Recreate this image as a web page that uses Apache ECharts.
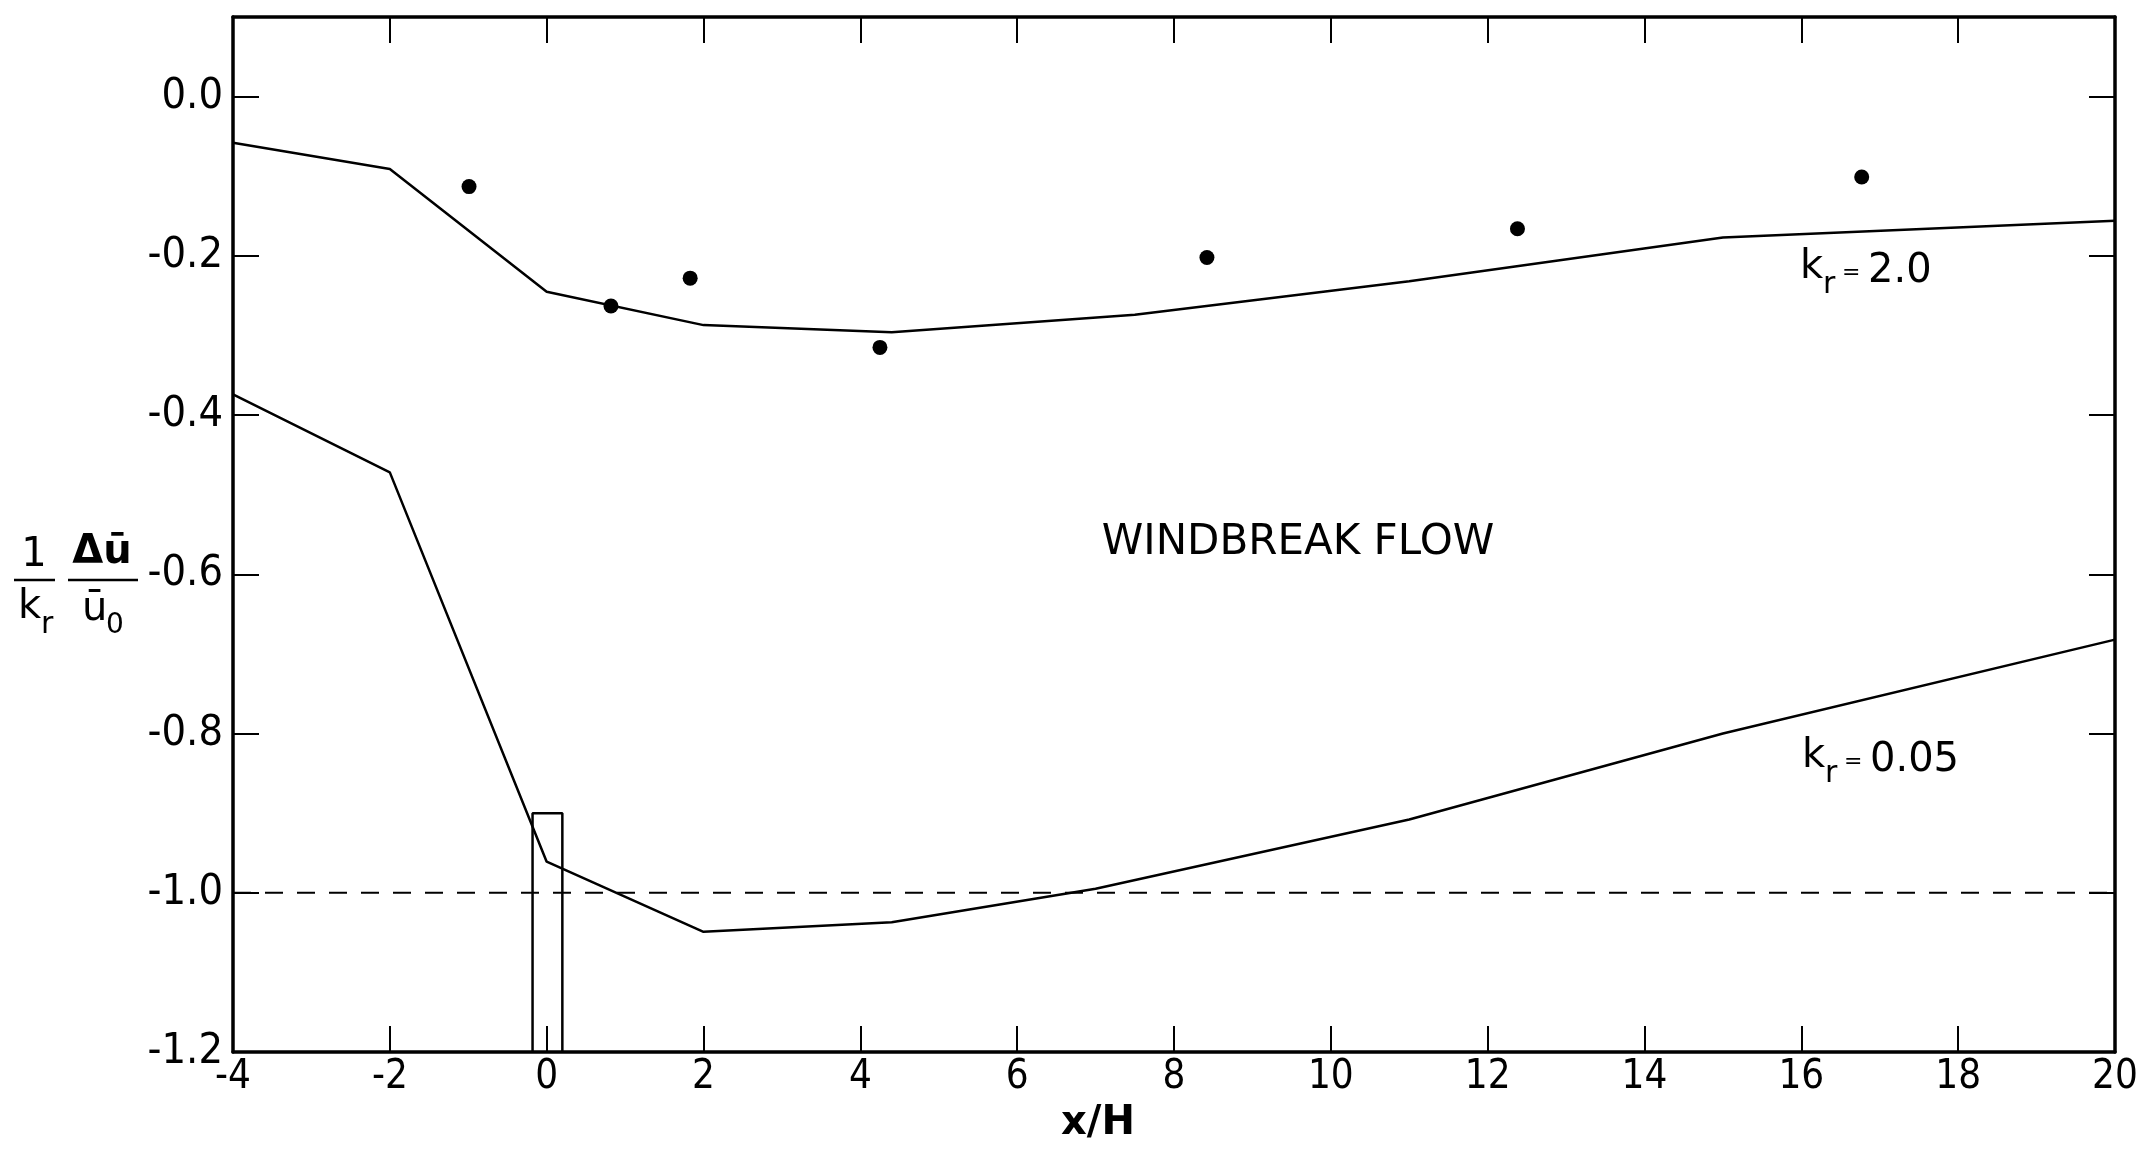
<!DOCTYPE html>
<html>
<head>
<meta charset="utf-8">
<script src="https://cdn.jsdelivr.net/npm/echarts@6/dist/echarts.min.js"></script>
<style>
  html, body { margin: 0; padding: 0; background: #fff; }
  #chart { width: 2146px; height: 1151px; }
</style>
</head>
<body>
<div id="chart"></div>
<script>
// curve k_r = 2.0
const xKr2 = [-4, -2, 0, 2, 4.4, 7.5, 11, 15, 20];
const yKr2 = [-0.058, -0.091, -0.245, -0.287, -0.296, -0.274, -0.232, -0.177, -0.156];

// curve k_r = 0.05
const xKr005 = [-4, -2, 0, 2, 4.4, 7, 11, 15, 20];
const yKr005 = [-0.374, -0.472, -0.961, -1.049, -1.037, -0.995, -0.908, -0.800, -0.682];

// measured points
const xDots = [-0.99, 0.82, 1.83, 4.25, 8.42, 12.38, 16.77];
const yDots = [-0.113, -0.263, -0.228, -0.315, -0.202, -0.166, -0.101];

// reference level and windbreak outline
const refLevel = -1.0;
const fenceX = [-0.18, -0.18, 0.2, 0.2];
const fenceY = [-1.2, -0.9, -0.9, -1.2];

const numFont = "'DejaVu Sans Condensed', 'Liberation Sans Narrow', 'DejaVu Sans', sans-serif";
const txtFont = "'DejaVu Sans', sans-serif";

const zip = (xs, ys) => xs.map((x, i) => [x, ys[i]]);

const chart = echarts.init(document.getElementById('chart'));

const axisLine = { show: true, onZero: false, lineStyle: { color: '#000', width: 3.5 } };
const tick = { show: true, inside: true, length: 26, lineStyle: { color: '#000', width: 2 } };

// k_r = value annotation built from pieces (k, subscript r, rest)
function krLabel(x, base, val) {
  return {
    type: 'group',
    children: [
      { type: 'text', x: x, y: base, style: { text: 'k', font: '40px ' + txtFont, fill: '#000', verticalAlign: 'bottom' } },
      { type: 'text', x: x + 23, y: base + 12, style: { text: 'r', font: '30px ' + txtFont, fill: '#000', verticalAlign: 'bottom' } },
      { type: 'text', x: x + 42, y: base - 4, style: { text: '=', font: '22px ' + txtFont, fill: '#000', verticalAlign: 'bottom' } },
      { type: 'text', x: x + 68, y: base + 4, style: { text: val, font: '40px ' + txtFont, fill: '#000', verticalAlign: 'bottom' } }
    ]
  };
}

chart.setOption({
  animation: false,
  backgroundColor: '#fff',
  grid: { left: 233, right: 31, top: 17, bottom: 99 },
  xAxis: [{
    type: 'value', min: -4, max: 20, interval: 2, position: 'bottom',
    axisLine: axisLine, axisTick: tick, splitLine: { show: false },
    axisLabel: { color: '#000', fontSize: 40, fontFamily: numFont, margin: 6 }
  }, {
    type: 'value', min: -4, max: 20, interval: 2, position: 'top',
    axisLine: axisLine, axisTick: tick, splitLine: { show: false },
    axisLabel: { show: false }
  }],
  yAxis: [{
    type: 'value', min: -1.2, max: 0.1, interval: 0.2, position: 'left',
    axisLine: axisLine, axisTick: tick, splitLine: { show: false },
    axisLabel: {
      color: '#000', fontSize: 43, fontFamily: numFont, margin: 10,
      formatter: v => (v > 0.05 ? '' : (Math.abs(v) < 1e-9 ? '0.0' : v.toFixed(1)))
    }
  }, {
    type: 'value', min: -1.2, max: 0.1, interval: 0.2, position: 'right',
    axisLine: axisLine, axisTick: tick, splitLine: { show: false },
    axisLabel: { show: false }
  }],
  series: [{
    type: 'line', data: zip(xKr2, yKr2), symbol: 'none',
    lineStyle: { color: '#000', width: 2.5 }
  }, {
    type: 'line', data: zip(xKr005, yKr005), symbol: 'none',
    lineStyle: { color: '#000', width: 2.5 }
  }, {
    type: 'scatter', data: zip(xDots, yDots), symbol: 'circle', symbolSize: 15,
    itemStyle: { color: '#000', opacity: 1 }
  }, {
    type: 'line', data: [[-4, refLevel], [20, refLevel]], symbol: 'none',
    lineStyle: { color: '#000', width: 2, type: [18, 14] }
  }, {
    type: 'line', data: zip(fenceX, fenceY), symbol: 'none',
    lineStyle: { color: '#000', width: 2.5 }
  }],
  graphic: [
    { type: 'text', x: 1298, y: 543, style: { text: 'WINDBREAK FLOW', font: '42px ' + txtFont, fill: '#000', align: 'center', verticalAlign: 'middle' } },
    { type: 'text', x: 1098, y: 1124, style: { text: 'x/H', font: 'bold 40px ' + txtFont, fill: '#000', align: 'center', verticalAlign: 'middle' } },
    krLabel(1800, 288, '2.0'),
    krLabel(1802, 777, '0.05'),
    // y axis title: (1/k_r)(Δū/ū0)
    { type: 'text', x: 34, y: 556, style: { text: '1', font: '40px ' + txtFont, fill: '#000', align: 'center', verticalAlign: 'middle' } },
    { type: 'line', shape: { x1: 14, y1: 580, x2: 55, y2: 580 }, style: { stroke: '#000', lineWidth: 2.5 } },
    { type: 'text', x: 18, y: 628, style: { text: 'k', font: '40px ' + txtFont, fill: '#000', verticalAlign: 'bottom' } },
    { type: 'text', x: 41, y: 640, style: { text: 'r', font: '30px ' + txtFont, fill: '#000', verticalAlign: 'bottom' } },
    { type: 'text', x: 102, y: 553, style: { text: 'Δū', font: 'bold 40px ' + txtFont, fill: '#000', align: 'center', verticalAlign: 'middle' } },
    { type: 'line', shape: { x1: 68, y1: 580, x2: 138, y2: 580 }, style: { stroke: '#000', lineWidth: 2.5 } },
    { type: 'text', x: 82, y: 630, style: { text: 'ū', font: '40px ' + txtFont, fill: '#000', verticalAlign: 'bottom' } },
    { type: 'text', x: 106, y: 640, style: { text: '0', font: '28px ' + txtFont, fill: '#000', verticalAlign: 'bottom' } }
  ]
});
</script>
</body>
</html>
